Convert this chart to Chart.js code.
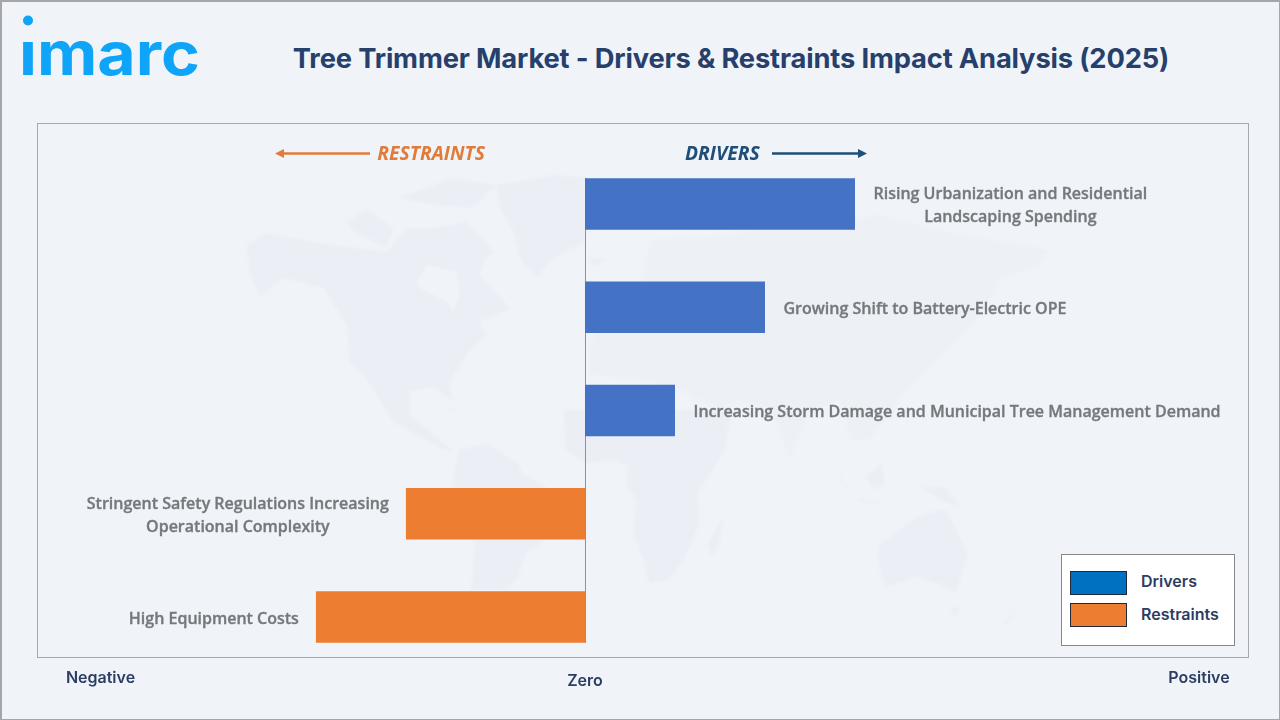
<!DOCTYPE html>
<html>
<head>
<meta charset="utf-8">
<title>Tree Trimmer Market</title>
<script src="https://cdn.jsdelivr.net/npm/chart.js@4"></script>
<style>
    html, body { margin: 0; padding: 0; width: 1280px; height: 720px; overflow: hidden; }
    body { position: relative; background: #f0f4f9; font-family: Inter, sans-serif; }
    #edge { position: absolute; left: 0; top: 0; width: 1277px; height: 717px; border: 1px solid #a5a5aa; border-width: 2px 1px 1px 2px; }
    #map { position: absolute; left: 0; top: 0; filter: blur(1.2px); }
    #frame { position: absolute; left: 37px; top: 123px; width: 1212px; height: 535px; border: 1px solid #a6a8ae; box-sizing: border-box; }
    #chart { position: absolute; left: 0; top: 0; }
    #logo { position: absolute; left: 0; top: 0; }
    h1 { position: absolute; left: 231px; width: 1000px; top: 41px; margin: 0; text-align: center; font-size: 27.3px; line-height: 36px; font-weight: 700; letter-spacing: -0.15px; color: #26406b; white-space: nowrap; }
    #legend { position: absolute; left: 1061px; top: 554px; width: 174px; height: 92px; box-sizing: border-box; background: #fff; border: 1px solid #85878c; }
    #legend i { position: absolute; left: 8px; width: 57px; height: 24px; box-sizing: border-box; border: 1px solid #1f2a3a; }
    #legend span { position: absolute; left: 79px; font-size: 16px; line-height: 20px; font-weight: 600; color: #2b3d63; }
</style>
</head>
<body>
<svg id="map" width="1280" height="720">
    <g fill="#ebeff5">
        <!-- America do Norte e Groenlandia -->
        <g transform="translate(220,165) scale(0.3333)">
            <path d="M80 240 L140 205 L300 235 L500 260 L560 190 L700 190 L800 260 L780 330 L870 430 L780 470 L800 510 L740 570 L690 650 L695 705 L640 665 L570 680 L570 750 L620 790 L700 860 L660 850 L520 770 L430 630 L390 600 L380 480 L310 370 L190 340 L120 395 L90 330 Z"/>
            <path d="M380 170 L440 130 L520 190 L500 250 L400 200 Z"/>
            <path d="M530 100 L700 40 L830 60 L760 130 L640 120 Z"/>
            <path d="M640 190 L740 170 L820 260 L760 320 L660 260 Z"/>
            <path d="M830 60 L1000 30 L1095 35 L1095 230 L1000 280 L950 340 L900 280 L880 200 L840 130 Z"/>
            <path fill="#f0f4f9" d="M590 350 L620 300 L710 320 L720 390 L700 440 L680 410 L600 370 Z"/>
            <path d="M680 730 L740 750 L680 735 Z"/>
        </g>
        <!-- Eurasia -->
        <path fill="#edf1f6" d="M590 345 L600 320 L640 290 L650 240 L720 235 L800 225 L880 215 L960 235 L1050 250 L1040 265 L1000 280 L985 310 L950 350 L920 380 L900 400 L870 440 L850 440 L840 400 L810 410 L790 460 L770 410 L740 400 L720 410 L680 390 L640 380 L590 375 Z"/>
        <path d="M590 258 L604 258 L600 266 L592 264 Z"/>
        <!-- America do Sul, Africa, Oceania -->
        <g transform="translate(400,430) scale(0.3945,0.3333)">
            <path d="M150 60 L220 40 L300 100 L310 130 L370 170 L360 340 L320 370 L300 440 L270 480 L180 480 L190 340 L130 170 L140 110 Z"/>
            <path d="M415 -60 L420 60 L470 100 L540 90 L575 110 L575 170 L600 210 L590 310 L620 400 L630 460 L680 450 L720 390 L760 280 L755 190 L825 60 L840 -60 Z"/>
            <path d="M820 260 L810 340 L790 380 L780 340 Z"/>
            <path d="M1210 350 L1310 260 L1370 240 L1385 240 L1440 370 L1410 490 L1360 460 L1310 440 L1230 470 L1215 420 Z"/>
            <path d="M1395 530 L1420 535 L1405 560 Z"/>
            <path d="M1565 535 L1530 580 L1540 585 Z"/>
            <path d="M1100 105 L1150 200 L1130 170 Z"/>
            <path d="M1180 140 L1220 100 L1230 160 L1200 180 Z"/>
            <path d="M1160 205 L1240 225 L1170 215 Z"/>
            <path d="M1320 170 L1380 170 L1420 230 L1370 210 Z"/>
        </g>
    </g>
</svg>
<div id="edge"></div>
<div id="frame"></div>
<svg id="logo" width="240" height="100">
    <defs><clipPath id="semPingo"><rect x="0" y="41" width="240" height="40"/></clipPath></defs>
    <circle cx="28" cy="20.5" r="5" fill="#0ea5f8"/>
    <text clip-path="url(#semPingo)" x="19" y="75" textLength="181" lengthAdjust="spacingAndGlyphs" font-family="Inter, sans-serif" font-weight="700" font-size="60" fill="#0ea5f8">imarc</text>
</svg>
<h1>Tree Trimmer Market - Drivers &amp; Restraints Impact Analysis (2025)</h1>
<canvas id="chart" width="1280" height="720"></canvas>
<div id="legend">
    <i style="top:16px;background:#0070c0"></i><span style="top:16px">Drivers</span>
    <i style="top:48px;background:#ed7d31"></i><span style="top:49px">Restraints</span>
</div>
<script>
// Dados
const categories = [
    ['Rising Urbanization and Residential', 'Landscaping Spending'],
    ['Growing Shift to Battery-Electric OPE'],
    ['Increasing Storm Damage and Municipal Tree Management Demand'],
    ['Stringent Safety Regulations Increasing', 'Operational Complexity'],
    ['High Equipment Costs']
];
const driverValues = [3, 2, 1, null, null];
const restraintValues = [null, null, null, -1.99, -2.99];
const axisWords = ['Negative', 'Zero', 'Positive'];

// Rotulos ao lado das barras
const barLabels = {
    id: 'barLabels',
    afterDatasetsDraw(chart) {
        const ctx = chart.ctx;
        ctx.save();
        ctx.font = '600 16px "Open Sans"';
        ctx.fillStyle = '#76787c';
        ctx.strokeStyle = '#76787c';
        ctx.lineWidth = 0.35;
        ctx.textAlign = 'center';
        ctx.textBaseline = 'middle';
        chart.data.datasets.forEach((ds, d) => {
            chart.getDatasetMeta(d).data.forEach((bar, i) => {
                if (ds.data[i] === null) return;
                const lines = categories[i];
                const w = Math.max(...lines.map(l => ctx.measureText(l).width));
                const cx = ds.data[i] > 0 ? bar.x + 18.5 + w / 2 : bar.x - 17 - w / 2;
                lines.forEach((l, n) => {
                    const y = bar.y + 2 + (n - (lines.length - 1) / 2) * 23;
                    ctx.fillText(l, cx, y);
                    ctx.strokeText(l, cx, y);
                });
            });
        });
        ctx.restore();
    }
};

// Linha do zero, setas e palavras do eixo
const decorations = {
    id: 'decorations',
    beforeDatasetsDraw(chart) {
        const ctx = chart.ctx;
        const x0 = chart.scales.x.getPixelForValue(0);
        ctx.save();
        ctx.strokeStyle = '#8e9196';
        ctx.lineWidth = 1;
        ctx.beginPath();
        ctx.moveTo(x0 + 0.5, 178);
        ctx.lineTo(x0 + 0.5, 643);
        ctx.stroke();
        ctx.restore();
    },
    afterDatasetsDraw(chart) {
        const ctx = chart.ctx;
        const x0 = chart.scales.x.getPixelForValue(0);
        ctx.save();
        ctx.textBaseline = 'middle';

        ctx.font = 'italic 700 19.3px "Open Sans"';
        ctx.fillStyle = '#e07b39';
        ctx.textAlign = 'right';
        ctx.fillText('RESTRAINTS', x0 - 100, 155);
        ctx.fillStyle = '#1f4e79';
        ctx.textAlign = 'left';
        ctx.fillText('DRIVERS', x0 + 100, 155);

        arrow(ctx, x0 - 215, x0 - 310, '#e07b39');
        arrow(ctx, x0 + 187, x0 + 282, '#1f4e79');

        ctx.font = '600 16px Inter';
        ctx.fillStyle = '#2b3d63';
        ctx.textAlign = 'center';
        ctx.fillText(axisWords[0], 100.5, 678);
        ctx.fillText(axisWords[1], x0, 681);
        ctx.fillText(axisWords[2], 1199, 678);
        ctx.restore();
    }
};

function arrow(ctx, from, to, color) {
    const dir = to > from ? 1 : -1;
    ctx.strokeStyle = color;
    ctx.fillStyle = color;
    ctx.lineWidth = 2.5;
    ctx.beginPath();
    ctx.moveTo(from, 153.5);
    ctx.lineTo(to - dir * 6, 153.5);
    ctx.stroke();
    ctx.beginPath();
    ctx.moveTo(to, 153.5);
    ctx.lineTo(to - dir * 9, 149);
    ctx.lineTo(to - dir * 9, 158);
    ctx.closePath();
    ctx.fill();
}

new Chart(document.getElementById('chart'), {
    type: 'bar',
    data: {
        labels: categories.map(c => c.join(' ')),
        datasets: [
            { label: 'Drivers', data: driverValues, backgroundColor: '#4472c4' },
            { label: 'Restraints', data: restraintValues, backgroundColor: '#ed7d31' }
        ]
    },
    options: {
        indexAxis: 'y',
        responsive: false,
        animation: false,
        layout: { padding: { left: 38, right: 32, top: 152.4, bottom: 51.4 } },
        datasets: { bar: { grouped: false, barPercentage: 1, categoryPercentage: 0.5 } },
        scales: {
            x: { display: false, min: -6.078, max: 7.367 },
            y: { display: false }
        },
        plugins: { legend: { display: false }, tooltip: { enabled: false } }
    },
    plugins: [barLabels, decorations]
});
</script>
</body>
</html>
